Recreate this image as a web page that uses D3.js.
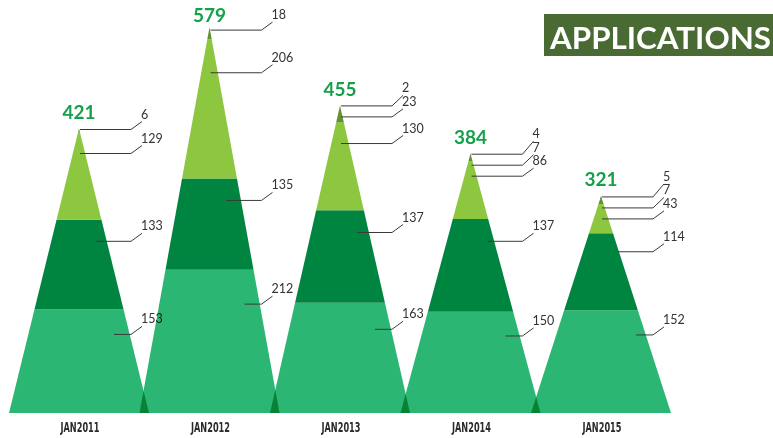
<!DOCTYPE html>
<html><head><meta charset="utf-8">
<script src="https://cdn.jsdelivr.net/npm/d3@7"></script>
<style>body{margin:0;background:#fff}svg{display:block}</style>
</head><body><svg id="c" width="773" height="438"></svg>
<script>
const categories = ["JAN2011","JAN2012","JAN2013","JAN2014","JAN2015"];
const totals = [421,579,455,384,321];
const baseVals = [153,212,163,150,152];
const midVals = [133,135,137,137,114];
const upperVals = [129,206,130,86,43];
const tipVals = [6,18,23,7,7];
const apexVals = [0,0,2,4,5];
const title = "APPLICATIONS";

const layerSeries = [baseVals, midVals, upperVals, tipVals, apexVals];
const colors = ["#2cb673","#008541","#8dc63f","#62922f","#44702a"];
const startOff = [35,17,1,1,1];

const svg = d3.select("#c");
svg.append("rect").attr("width",773).attr("height",438).attr("fill","#fff");
const x = d3.scalePoint().domain(categories).range([79,601]);
const y = d3.scaleLinear().domain([0,600]).range([413, 413-600/1.48]);
const halfW = 70;
const baseY = y(0);
const lineG = svg.append("g");

categories.forEach((cat,i)=>{
  const cx = x(cat);
  const layers = layerSeries.map((s,k)=>({v:s[i],k})).filter(d=>d.v>0);
  let cum=0;
  layers.forEach(d=>{d.v0=cum; cum+=d.v; d.v1=cum;});
  const tipY = y(cum);
  const hw = py => halfW*(py - tipY)/(baseY - tipY);
  layers.forEach(d=>{
    const yb=y(d.v0), yt=y(d.v1);
    const pts = [[cx-hw(yb),yb],[cx+hw(yb),yb],[cx+hw(yt),yt],[cx-hw(yt),yt]];
    const p = svg.append("path").attr("d", d3.line()(pts)+"Z").attr("fill", colors[d.k]);
    if (d.k===0) p.style("mix-blend-mode","multiply");
  });
  // leader line y positions (top-down)
  let prev=-Infinity;
  layers.slice().reverse().forEach(d=>{
    const yt=y(d.v1), yb=y(d.v0);
    let ly = yt + 0.24*(yb-yt);
    ly = Math.max(ly, prev+11);
    d.ly=ly; prev=ly;
  });
  // label y positions (bottom-up)
  let prevLab = Infinity;
  layers.forEach(d=>{
    d.lab = Math.min(d.ly-11, prevLab-13.5);
    prevLab = d.lab;
  });
  const labelX = cx + 62;
  layers.forEach(d=>{
    const pts=[[cx+startOff[d.k], d.ly],[cx+52, d.ly],[labelX+1, d.lab+3]];
    lineG.append("path").attr("d", d3.line()(pts)).attr("fill","none")
      .attr("stroke","#3a3a3a").attr("stroke-width",1);
    svg.append("text").attr("x",labelX).attr("y",d.lab).text(d.v)
      .attr("font-family","Lato").attr("font-size",12.5).attr("fill","#333");
  });
  svg.append("text").attr("x",cx).attr("y",Math.max(tipY-10, 22)).attr("text-anchor","middle")
    .text(totals[i]).attr("font-family","Lato").attr("font-weight","bold")
    .attr("font-size",19).attr("fill","#16a04b");
  svg.append("text").attr("x",cx+1).attr("y",432).attr("text-anchor","middle")
    .text(cat).attr("font-family","DejaVu Sans Condensed").attr("font-weight","bold")
    .attr("font-size",13.5).attr("fill","#2b2b2b")
    .attr("textLength",39).attr("lengthAdjust","spacingAndGlyphs");
});
lineG.raise();

svg.append("rect").attr("x",544).attr("y",14).attr("width",229).attr("height",42).attr("fill","#4a6a33");
svg.append("text").attr("x",550).attr("y",49).text(title)
  .attr("font-family","Lato").attr("font-weight","bold").attr("font-size",30)
  .attr("fill","#fff").attr("textLength",221).attr("lengthAdjust","spacingAndGlyphs");
</script></body></html>
